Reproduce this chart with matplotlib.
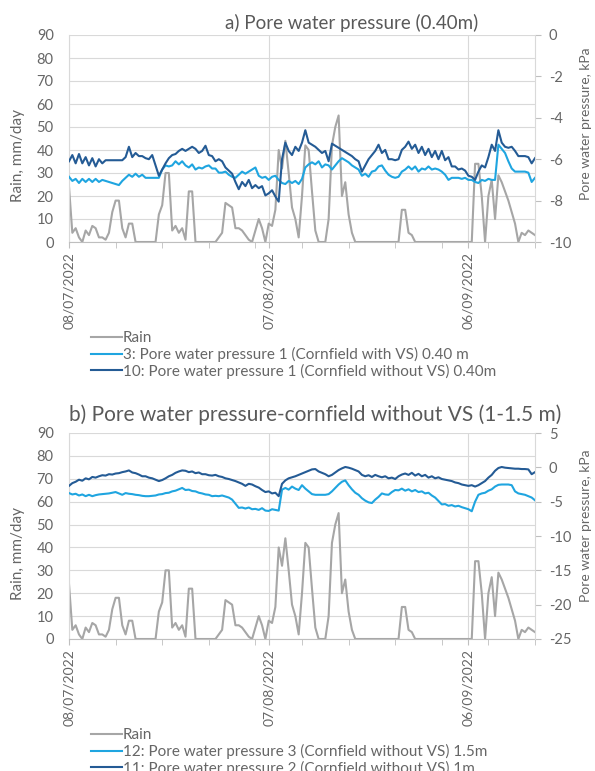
import numpy as np
import pandas as pd
import matplotlib
matplotlib.use('Agg')
import matplotlib.pyplot as plt
import matplotlib.dates as mdates
import matplotlib.ticker as mticker

plt.rcParams['font.family'] = ['Lato', 'DejaVu Sans']
plt.rcParams['axes.unicode_minus'] = False

# readings every 12 h starting 08/07/2022
start = '2022-07-08'

rain = [
    24, 4, 6, 2, 0, 5, 3, 7, 6, 2,
    2, 1, 4, 13, 18, 18, 6, 2, 8, 8,
    0, 0, 0, 0, 0, 0, 0, 12, 16, 30,
    30, 5, 7, 4, 6, 1, 22, 22, 0, 0,
    0, 0, 0, 0, 0, 2, 4, 17, 16, 15,
    6, 6, 5, 3, 1, 0, 5, 10, 6, 0,
    8, 7, 14, 40, 32, 44, 30, 15, 10, 2,
    20, 42, 40, 22, 5, 0, 0, 0, 10, 42,
    50, 55, 20, 26, 12, 4, 0, 0, 0, 0,
    0, 0, 0, 0, 0, 0, 0, 0, 0, 0,
    14, 14, 4, 3, 0, 0, 0, 0, 0, 0,
    0, 0, 0, 0, 0, 0, 0, 0, 0, 0,
    0, 0, 34, 34, 20, 0, 20, 27, 10, 29,
    26, 22, 18, 13, 8, 0, 4, 3, 5, 4,
    3,
]

# a) 0.40 m
pwp3 = [
    -6.85, -7.05, -6.95, -7.15, -6.95, -7.1, -6.95, -7.1, -6.95, -7.1,
    -7.0, -7.05, -7.1, -7.15, -7.2, -7.25, -7.05, -6.9, -6.75, -6.85,
    -6.7, -6.85, -6.75, -6.9, -6.9, -6.9, -6.9, -6.9, -6.5, -6.3,
    -6.35, -6.3, -6.1, -6.25, -6.1, -6.3, -6.4, -6.25, -6.5, -6.4,
    -6.45, -6.35, -6.3, -6.45, -6.45, -6.65, -6.65, -6.6, -6.75, -6.85,
    -6.9, -6.75, -6.6, -6.7, -6.6, -6.5, -6.4, -6.8, -6.9, -6.85,
    -7.0, -6.85, -6.8, -7.0, -7.15, -7.2, -7.05, -7.15, -7.05, -7.2,
    -6.95, -6.4, -6.25, -6.15, -6.25, -6.1, -6.4, -6.25, -6.3, -6.5,
    -6.3, -6.1, -5.95, -6.05, -6.15, -6.3, -6.4, -6.5, -6.8, -6.7,
    -6.85, -6.6, -6.55, -6.35, -6.3, -6.55, -6.75, -6.85, -6.9, -6.85,
    -6.6, -6.5, -6.35, -6.5, -6.35, -6.6, -6.45, -6.5, -6.35, -6.5,
    -6.45, -6.5, -6.6, -6.75, -7.0, -6.9, -6.9, -6.9, -6.95, -6.9,
    -7.0, -7.0, -7.1, -7.15, -7.0, -7.05, -6.95, -7.0, -7.0, -5.3,
    -5.5, -5.7, -6.1, -6.45, -6.6, -6.6, -6.6, -6.6, -6.65, -7.1,
    -6.9,
]
pwp10 = [
    -6.1, -5.8, -6.2, -5.75, -6.2, -5.9, -6.3, -5.95, -6.35, -6.0,
    -6.2, -6.05, -6.05, -6.05, -6.05, -6.05, -6.05, -5.9, -5.4, -5.9,
    -5.7, -5.85, -5.85, -5.95, -6.0, -5.8, -6.3, -6.8, -6.5, -6.2,
    -5.95, -5.8, -5.75, -5.6, -5.5, -5.6, -5.5, -5.4, -5.5, -5.7,
    -5.6, -5.35, -5.8, -5.85, -6.1, -6.0, -6.1, -6.4, -6.55, -6.7,
    -7.1, -7.45, -7.1, -7.3, -7.0, -7.4, -7.25, -7.4, -7.3, -7.75,
    -7.65, -7.5, -7.8, -8.05, -6.0, -5.2, -5.6, -5.8, -5.4, -5.6,
    -5.2, -4.6, -5.2, -5.3, -5.4, -5.55, -5.7, -5.6, -6.1, -5.25,
    -5.35, -5.45, -5.55, -5.65, -5.75, -5.85, -6.0, -6.1, -6.6, -6.3,
    -6.0, -5.8, -5.6, -5.3, -5.7, -5.55, -6.0, -6.0, -6.05, -6.0,
    -5.55, -5.4, -5.15, -5.5, -5.3, -5.7, -5.4, -5.8, -5.5, -5.9,
    -5.6, -6.0, -5.6, -6.05, -5.9, -6.35, -6.35, -6.5, -6.45, -6.55,
    -6.8, -6.85, -7.0, -6.6, -6.3, -6.4, -5.9, -5.3, -5.6, -4.6,
    -5.2, -5.4, -5.45, -5.4, -5.6, -5.85, -5.85, -5.85, -5.9, -6.2,
    -5.95,
]

# b) cornfield without VS, 1-1.5 m
pwp12 = [
    -3.75, -3.95, -3.85, -4.1, -3.95, -4.2, -4.0, -4.2, -4.05, -3.95,
    -3.9, -3.85, -3.8, -3.7, -3.6, -3.8, -4.0, -3.75, -3.85, -3.9,
    -4.0, -4.05, -4.15, -4.2, -4.2, -4.15, -4.1, -3.95, -3.9, -3.75,
    -3.7, -3.5, -3.4, -3.2, -3.0, -3.3, -3.25, -3.45, -3.5, -3.7,
    -3.8, -3.95, -4.0, -4.2, -4.15, -4.2, -4.1, -4.25, -4.4, -4.7,
    -5.3, -5.9, -5.85, -6.0, -5.85, -6.1, -6.05, -6.2, -5.95, -6.3,
    -6.35, -6.1, -6.2, -6.3, -3.25, -3.0, -3.25, -2.8, -3.1, -3.3,
    -2.6, -3.1, -3.5, -3.9, -4.0, -4.0, -4.0, -4.0, -3.9, -3.5,
    -3.0, -2.5, -2.1, -1.9, -2.6, -3.2, -3.7, -4.0, -4.5, -4.85,
    -5.1, -5.2, -4.7, -4.3, -3.8, -3.95, -4.0, -3.6, -3.3, -3.35,
    -3.1, -3.4, -3.2, -3.5, -3.3, -3.6, -3.5, -3.8, -3.7, -4.1,
    -4.4, -4.9, -5.4, -5.35, -5.6, -5.5, -5.7, -5.6, -5.8, -5.95,
    -6.1, -6.4, -5.0, -4.0, -3.8, -3.7, -3.4, -3.2, -2.8, -2.55,
    -2.5, -2.5, -2.5, -2.6, -3.5, -3.8, -3.9, -4.0, -4.2, -4.4,
    -4.8,
]
pwp11 = [
    -2.7, -2.3, -2.1, -1.8, -1.95, -1.6, -1.75, -1.4, -1.5, -1.3,
    -1.15, -1.2, -1.0, -1.05, -0.9, -0.85, -0.7, -0.6, -0.45, -0.75,
    -0.85, -1.05, -1.3, -1.3, -1.5, -1.6, -1.8, -2.0, -1.85, -1.6,
    -1.3, -1.1, -0.8, -0.6, -0.45, -0.5, -0.7, -0.6, -0.85, -0.75,
    -1.0, -1.0, -1.15, -1.2, -1.1, -1.3, -1.4, -1.6, -1.7, -1.85,
    -2.0, -2.2, -2.4, -2.7, -2.4, -2.5, -2.75, -2.95, -3.3, -3.6,
    -3.5, -3.8, -3.7, -4.2, -2.4, -1.9, -1.6, -1.45, -1.3, -1.1,
    -0.9, -0.7, -0.5, -0.3, -0.25, -0.6, -0.8, -1.0, -1.3, -1.1,
    -0.75, -0.4, -0.15, 0.05, -0.05, -0.2, -0.4, -0.6, -1.1, -1.3,
    -1.15, -1.4, -1.1, -1.3, -1.45, -1.3, -1.6, -1.5, -1.7, -1.3,
    -1.05, -0.9, -1.1, -0.8, -1.2, -0.95, -1.3, -1.1, -1.5, -1.3,
    -1.6, -1.45, -1.7, -1.8, -1.9, -2.0, -2.2, -2.3, -2.5, -2.6,
    -2.7, -2.6, -2.8, -2.6, -2.3, -2.0, -1.5, -1.1, -0.5, -0.1,
    0.05, -0.05, -0.1, -0.15, -0.2, -0.2, -0.25, -0.25, -0.3, -1.0,
    -0.7,
]

tick_dates = ['2022-07-08', '2022-08-07', '2022-09-06']
end_date = '2022-09-16'

grey = '#A6A6A6'
light_blue = '#1FA5E0'
dark_blue = '#245B95'
txt = '#666666'
grid_c = '#D9D9D9'

t = pd.date_range(start, periods=len(rain), freq='12h')


def style_axes(ax, ax2, rticks, rlim):
    ax.set_xlim(pd.Timestamp(start), pd.Timestamp(end_date))
    ax.set_ylim(0, 90)
    ax.set_yticks(np.arange(0, 91, 10))
    ax2.set_ylim(*rlim)
    ax2.set_yticks(rticks)
    ax.xaxis.set_major_locator(mticker.FixedLocator(mdates.date2num(pd.to_datetime(tick_dates))))
    ax.xaxis.set_major_formatter(mdates.DateFormatter('%d/%m/%Y'))
    weeks = pd.date_range(start, end_date, freq='7D')
    ax.xaxis.set_minor_locator(mticker.FixedLocator(mdates.date2num(weeks)))
    ax.set_axisbelow(True)
    ax.grid(axis='y', color=grid_c, lw=0.8)
    ax.grid(axis='x', which='major', color=grid_c, lw=0.8)
    for s in ['top', 'right']:
        ax.spines[s].set_visible(False)
    for s in ['top', 'left', 'bottom']:
        ax2.spines[s].set_visible(False)
    ax.spines['left'].set_color(grid_c)
    ax.spines['bottom'].set_color('#BFBFBF')
    ax2.spines['right'].set_color(grid_c)
    ax.tick_params(axis='y', length=0, pad=11, labelsize=10.5, labelcolor=txt)
    ax.tick_params(axis='x', which='both', length=4, color='#BFBFBF',
                   labelsize=10, labelcolor=txt, rotation=90, pad=3)
    ax2.tick_params(axis='y', length=4, color='#BFBFBF', pad=6,
                    labelsize=10.5, labelcolor=txt)
    ax.set_ylabel('Rain, mm/day', fontsize=11, color=txt)
    ax2.set_ylabel('Pore water pressure, kPa', fontsize=10, color=txt)


fig = plt.figure(figsize=(5.95, 7.71), dpi=100)
left = 69 / 595
width = (535 - 69) / 595

# a) top panel
ax = fig.add_axes([left, 1 - 242 / 771, width, 207 / 771])
ax2 = ax.twinx()
l_rain, = ax.plot(t, rain, color=grey, lw=1.5, label='Rain')
l3, = ax2.plot(t, pwp3, color=light_blue, lw=1.5,
               label='3: Pore water pressure 1 (Cornfield with VS) 0.40 m')
l10, = ax2.plot(t, pwp10, color=dark_blue, lw=1.5,
                label='10: Pore water pressure 1 (Cornfield without VS) 0.40m')
style_axes(ax, ax2, np.arange(-10, 1, 2), (-10, 0))
ax.yaxis.set_label_coords(-0.094, 0.42)
ax2.yaxis.set_label_coords(1.097, 0.57)
fig.text(352 / 595, 1 - 23 / 771, 'a) Pore water pressure (0.40m)',
         ha='center', va='center', fontsize=13.5, color='#595959')
fig.legend([l_rain, l3, l10], [h.get_label() for h in [l_rain, l3, l10]],
           loc='upper left', bbox_to_anchor=(91 / 595, 1 - 331 / 771),
           frameon=False, fontsize=11, handlelength=2.0, handletextpad=0.1,
           labelspacing=0.12, borderpad=0, borderaxespad=0, labelcolor=txt)

# b) bottom panel
bx = fig.add_axes([left, 1 - 639 / 771, width, 206 / 771])
bx2 = bx.twinx()
b_rain, = bx.plot(t, rain, color=grey, lw=1.5, label='Rain')
l12, = bx2.plot(t, pwp12, color=light_blue, lw=1.5,
                label='12: Pore water pressure 3 (Cornfield without VS) 1.5m')
l11, = bx2.plot(t, pwp11, color=dark_blue, lw=1.5,
                label='11: Pore water pressure 2 (Cornfield without VS) 1m')
style_axes(bx, bx2, np.arange(-25, 6, 5), (-25, 5))
bx.yaxis.set_label_coords(-0.094, 0.417)
bx2.yaxis.set_label_coords(1.097, 0.55)
fig.text(315 / 595, 1 - 415 / 771, 'b) Pore water pressure-cornfield without VS (1-1.5 m)',
         ha='center', va='center', fontsize=15, color='#595959')
fig.legend([b_rain, l12, l11], [h.get_label() for h in [b_rain, l12, l11]],
           loc='upper left', bbox_to_anchor=(91 / 595, 1 - 728 / 771),
           frameon=False, fontsize=11, handlelength=2.0, handletextpad=0.1,
           labelspacing=0.12, borderpad=0, borderaxespad=0, labelcolor=txt)

fig.savefig('out.png', dpi=100)
